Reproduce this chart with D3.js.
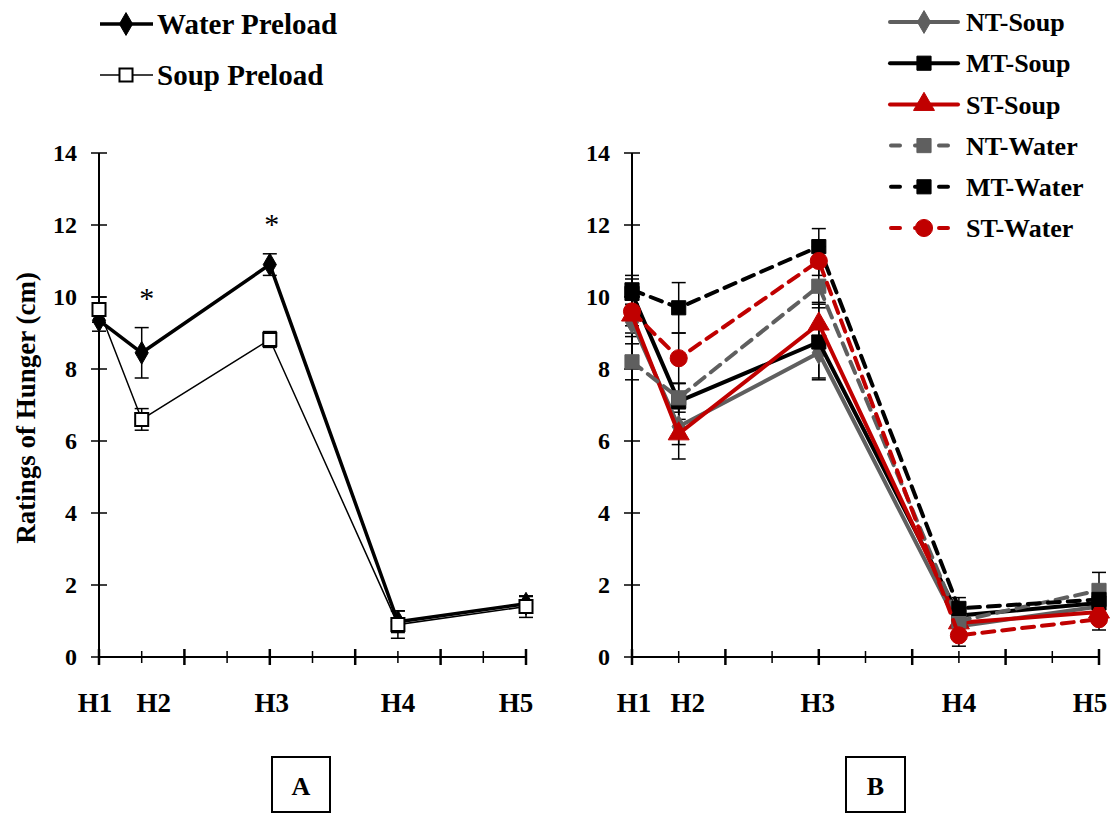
<!DOCTYPE html>
<html><head><meta charset="utf-8">
<script src="https://cdn.jsdelivr.net/npm/d3@7"></script>
<style>body{margin:0;background:#fff;} svg{display:block;font-family:"Liberation Serif","Times New Roman",serif;font-weight:bold;}</style>
</head><body>
<svg id="c" width="1118" height="825"></svg>
<script>
// ---- data ----
const timepoints = ["H1","H2","H3","H4","H5"];
const times = [0, 15, 60, 105, 150];          // minutes
const yTicks = [0,2,4,6,8,10,12,14];

// Panel A
const waterPreload = [9.35, 8.45, 10.9, 0.98, 1.48];
const waterPreloadSE = [0.3, 0.7, 0.3, 0.3, 0.2];
const soupPreload = [9.65, 6.6, 8.82, 0.9, 1.4];
const soupPreloadSE = [0.35, 0.3, 0.22, 0.38, 0.3];
const starsAt = ["H2","H3"];

// Panel B
const ntSoup  = [9.3, 6.4, 8.45, 0.85, 1.4];
const ntSoupSE = [0.4, 0.5, 0.7, 0.3, 0.3];
const mtSoup  = [10.1, 7.1, 8.75, 1.15, 1.5];
const mtSoupSE = [0.4, 0.5, 1.05, 0.3, 0.3];
const stSoup  = [9.5, 6.2, 9.25, 0.95, 1.25];
const stSoupSE = [0.5, 0.7, 0.6, 0.3, 0.3];
const ntWater = [8.2, 7.2, 10.3, 1.0, 1.85];
const ntWaterSE = [0.5, 0.4, 0.6, 0.3, 0.5];
const mtWater = [10.2, 9.7, 11.4, 1.35, 1.6];
const mtWaterSE = [0.4, 0.7, 0.5, 0.3, 0.4];
const stWater = [9.6, 8.3, 11.0, 0.6, 1.05];
const stWaterSE = [0.4, 0.7, 0.4, 0.3, 0.3];
const seriesNamesB = ["NT-Soup","MT-Soup","ST-Soup","NT-Water","MT-Water","ST-Water"];

// ---- drawing ----
const svg = d3.select("#c");
const GREY = "#5f5f5f", RED = "#c00000", BLACK = "#000";
const y = d3.scaleLinear().domain([0,14]).range([657,153]);
const xA = d3.scaleLinear().domain([0,150]).range([99,526]);
const xB = d3.scaleLinear().domain([0,150]).range([632,1099]);

function axes(x, g){
  g.append("line").attr("x1",x(0)).attr("x2",x(0)).attr("y1",y(14)).attr("y2",y(0)).attr("stroke","#000").attr("stroke-width",2);
  yTicks.forEach(t=>{
    g.append("line").attr("x1",x(0)-8).attr("x2",x(0)+8).attr("y1",y(t)).attr("y2",y(t)).attr("stroke","#000").attr("stroke-width",1.5);
    g.append("text").attr("x",x(0)-22).attr("y",y(t)).attr("dy","0.35em").attr("text-anchor","end").attr("font-size",24).text(t);
  });
  g.append("line").attr("x1",x(0)).attr("x2",x(150)).attr("y1",y(0)).attr("y2",y(0)).attr("stroke","#000").attr("stroke-width",2);
  d3.range(0,151,15).forEach((t,i)=>{
    const L = i%2===0 ? 8 : 6;
    g.append("line").attr("x1",x(t)).attr("x2",x(t)).attr("y1",y(0)-L).attr("y2",y(0)+L).attr("stroke","#000").attr("stroke-width", i%2===0?2.5:1.5);
  });
}
const labelShiftA = [-4, 12, 2, 0, -10];
const labelShiftB = [2, 9, -1, 0, -9];
function xLabels(x, g, shifts){
  timepoints.forEach((t,i)=>{
    g.append("text").attr("x",x(times[i])+shifts[i]).attr("y",703).attr("dy","0.35em")
      .attr("text-anchor","middle").attr("font-size",27).text(t);
  });
}

function errBars(x, g, vals, se, color, w){
  vals.forEach((v,i)=>{
    const cx = x(times[i]);
    g.append("line").attr("x1",cx).attr("x2",cx).attr("y1",y(v-se[i])).attr("y2",y(v+se[i])).attr("stroke",color).attr("stroke-width",w);
    [v-se[i], v+se[i]].forEach(e=>g.append("line").attr("x1",cx-7).attr("x2",cx+7).attr("y1",y(e)).attr("y2",y(e)).attr("stroke",color).attr("stroke-width",w));
  });
}
function lineOf(x){ return d3.line().x((d,i)=>x(times[i])).y(d=>y(d)); }

function marker(g, type, cx, cy, color, hollow){
  let sym, size;
  if(type==="diamond"){ sym=d3.symbolDiamond; size=150; }
  else if(type==="square"){ sym=d3.symbolSquare; size=hollow?170:200; }
  else if(type==="triangle"){ sym=d3.symbolTriangle; size=190; }
  else { sym=d3.symbolCircle; size=230; }
  g.append("path").attr("d",d3.symbol().type(sym).size(size)()).attr("transform",`translate(${cx},${cy})`)
    .attr("fill", hollow ? "#fff" : color).attr("stroke", color).attr("stroke-width", hollow?2:1);
}

// ---------- Panel A ----------
const gA = svg.append("g");
axes(xA, gA);
xLabels(xA, gA, labelShiftA);
errBars(xA, gA, soupPreload, soupPreloadSE, "#000", 1.5);
errBars(xA, gA, waterPreload, waterPreloadSE, "#000", 1.5);
gA.append("path").datum(soupPreload).attr("d",lineOf(xA)).attr("fill","none").attr("stroke","#000").attr("stroke-width",1.5);
gA.append("path").datum(waterPreload).attr("d",lineOf(xA)).attr("fill","none").attr("stroke","#000").attr("stroke-width",3.5);
waterPreload.forEach((v,i)=>marker(gA,"diamond",xA(times[i]),y(v),"#000",false));
soupPreload.forEach((v,i)=>marker(gA,"square",xA(times[i]),y(v),"#000",true));
starsAt.forEach(s=>{
  const i = timepoints.indexOf(s);
  const top = Math.max(waterPreload[i]+waterPreloadSE[i], soupPreload[i]+soupPreloadSE[i]);
  gA.append("text").attr("x",xA(times[i])+ (i===1?5:2)).attr("y",y(top)-20).attr("text-anchor","middle").attr("font-size",30).attr("font-weight","normal").attr("fill","#000").text("*");
});
gA.append("text").attr("transform",`translate(26,408) rotate(-90)`).attr("text-anchor","middle").attr("dy","0.35em").attr("font-size",27).text("Ratings of Hunger (cm)");

// legend A
const legA = [{name:"Water Preload", w:3.5, hollow:false, sym:"diamond"},{name:"Soup Preload", w:1.5, hollow:true, sym:"square"}];
legA.forEach((d,i)=>{
  const ly = 24 + i*51;
  gA.append("line").attr("x1",100).attr("x2",153).attr("y1",ly).attr("y2",ly).attr("stroke","#000").attr("stroke-width",d.w);
  marker(gA, d.sym, 126, ly, "#000", d.hollow);
  gA.append("text").attr("x",157).attr("y",ly).attr("dy","0.35em").attr("font-size",29).text(d.name);
});

// box A
gA.append("rect").attr("x",272).attr("y",757).attr("width",58).attr("height",55).attr("fill","none").attr("stroke","#000").attr("stroke-width",2);
gA.append("text").attr("x",301).attr("y",786).attr("dy","0.35em").attr("text-anchor","middle").attr("font-size",26).text("A");

// ---------- Panel B ----------
const gB = svg.append("g");
axes(xB, gB);
xLabels(xB, gB, labelShiftB);
const seriesB = [
  {name:seriesNamesB[0], v:ntSoup, se:ntSoupSE, c:GREY, dash:null, sym:"diamond"},
  {name:seriesNamesB[1], v:mtSoup, se:mtSoupSE, c:BLACK, dash:null, sym:"square"},
  {name:seriesNamesB[2], v:stSoup, se:stSoupSE, c:RED, dash:null, sym:"triangle"},
  {name:seriesNamesB[3], v:ntWater, se:ntWaterSE, c:GREY, dash:"12,8", sym:"square"},
  {name:seriesNamesB[4], v:mtWater, se:mtWaterSE, c:BLACK, dash:"12,8", sym:"square"},
  {name:seriesNamesB[5], v:stWater, se:stWaterSE, c:RED, dash:"12,8", sym:"circle"}
];
seriesB.forEach(s=>errBars(xB, gB, s.v, s.se, "#000", 1.5));
seriesB.forEach(s=>{
  gB.append("path").datum(s.v).attr("d",lineOf(xB)).attr("fill","none").attr("stroke",s.c).attr("stroke-width",4)
    .attr("stroke-dasharray",s.dash).attr("stroke-linecap","round");
  s.v.forEach((v,i)=>marker(gB, s.sym, xB(times[i]), y(v), s.c, false));
});
// legend B
seriesB.forEach((s,i)=>{
  const ly = 22 + i*41.2;
  if(s.dash){
    gB.append("line").attr("x1",891).attr("x2",957).attr("y1",ly).attr("y2",ly).attr("stroke",s.c).attr("stroke-width",4)
      .attr("stroke-dasharray","9,15").attr("stroke-linecap","round");
  } else {
    gB.append("line").attr("x1",890).attr("x2",958).attr("y1",ly).attr("y2",ly).attr("stroke",s.c).attr("stroke-width",4).attr("stroke-linecap","round");
  }
  marker(gB, s.sym, 924, ly, s.c, false);
  gB.append("text").attr("x",966).attr("y",ly).attr("dy","0.35em").attr("font-size",26).text(s.name);
});
// box B
gB.append("rect").attr("x",846).attr("y",757).attr("width",59).attr("height",55).attr("fill","none").attr("stroke","#000").attr("stroke-width",2);
gB.append("text").attr("x",875.5).attr("y",786).attr("dy","0.35em").attr("text-anchor","middle").attr("font-size",26).text("B");
</script>
</body></html>
